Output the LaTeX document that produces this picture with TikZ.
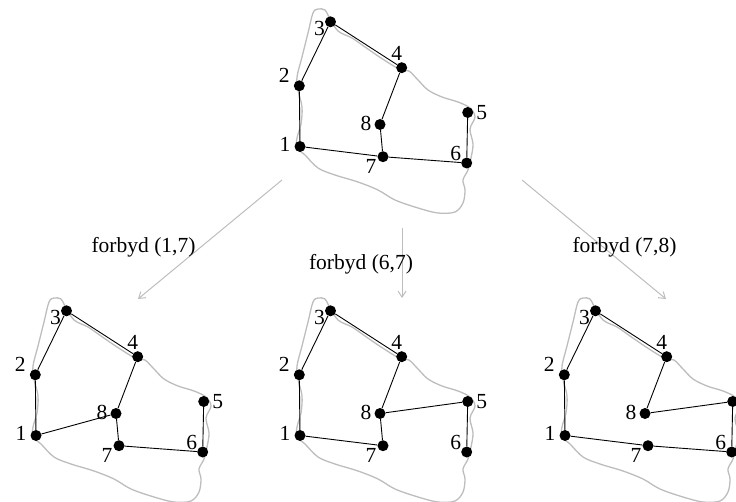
\documentclass[tikz,border=0pt]{standalone}
\usepackage{fontspec}
\setmainfont{Liberation Serif}
\usetikzlibrary{arrows.meta,calc}
\definecolor{outline}{gray}{0.74}
\tikzset{
  vertex/.style={circle,fill=black,inner sep=0pt,minimum size=11pt},
  vlabel/.style={inner sep=0pt,font=\fontsize{21.5}{25}\selectfont},
  edge/.style={line width=0.9pt},
  region/.style={draw=outline,line width=1.3pt},
  branch/.style={draw=outline,line width=1pt,-{Straight Barb[length=6pt,width=8pt]}},
  rulelabel/.style={font=\fontsize{21.5}{25}\selectfont,anchor=base,inner sep=0pt},
}
% one planar graph with its surrounding region;
% #1 = name prefix, (#2,#3) = shift, #4 = text of the label at vertex 5
\newcommand\makegraph[4]{%
  \begin{scope}[shift={(#2,#3)}]
    \draw[region] plot[smooth cycle,tension=0.55] coordinates {
      (318,9) (325,10) (329,17) (338,31) (352,38) (365,47) (378,56) (392,65)
      (401,70) (409,71) (418,80) (428,90) (442,97) (458,102) (470,108) (475,117)
      (470,129) (473,144) (471,158) (468,170) (463,180) (465,190) (463,203)
      (455,212) (438,213) (418,208) (395,200) (378,190) (358,182) (335,175)
      (318,168) (305,155) (297,148) (297,138) (301,124) (302,107) (298,90)
      (297,77) (302,57) (308,33) (313,13)};
    \node[vertex] (#1-1) at (300,146.5) {};
    \node[vertex] (#1-2) at (299.3,85.8) {};
    \node[vertex] (#1-3) at (330.5,21.8) {};
    \node[vertex] (#1-4) at (401.7,67.7) {};
    \node[vertex] (#1-5) at (467.7,112.5) {};
    \node[vertex] (#1-6) at (466.7,163) {};
    \node[vertex] (#1-7) at (383,156.7) {};
    \node[vertex] (#1-8) at (380,124.5) {};
    \node[vlabel] (#1-l1) at ($(#1-1)+(-15,-2)$) {1};
    \node[vlabel] (#1-l2) at ($(#1-2)+(-15,-10)$) {2};
    \node[vlabel] (#1-l3) at ($(#1-3)+(-11,7)$) {3};
    \node[vlabel] (#1-l4) at ($(#1-4)+(-5,-14)$) {4};
    \node[vlabel] (#1-l5) at ($(#1-5)+(14,0)$) {#4};
    \node[vlabel] (#1-l6) at ($(#1-6)+(-11,-10)$) {6};
    \node[vlabel] (#1-l7) at ($(#1-7)+(-12,10)$) {7};
    \node[vlabel] (#1-l8) at ($(#1-8)+(-14,-1)$) {8};
  \end{scope}}
\begin{document}
\begin{tikzpicture}[x=1pt,y=-1pt]
  \clip (0,0) rectangle (736,502);

  % the starting graph
  \makegraph{t}{0}{0}{5}
  \draw[edge] (t-1) -- (t-2) -- (t-3) -- (t-4) -- (t-8) -- (t-7) -- (t-1);
  \draw[edge] (t-7) -- (t-6) -- (t-5);

  % the three branches
  \makegraph{a}{-264}{289}{5}
  \draw[edge] (a-1) -- (a-2) -- (a-3) -- (a-4) -- (a-8) -- (a-1);
  \draw[edge] (a-8) -- (a-7) -- (a-6) -- (a-5);

  \makegraph{b}{0}{289}{5}
  \draw[edge] (b-1) -- (b-2) -- (b-3) -- (b-4) -- (b-8) -- (b-7) -- (b-1);
  \draw[edge] (b-8) -- (b-5) -- (b-6);

  % the right-hand graph runs past the page edge, so its label 5 is left empty
  \makegraph{c}{265}{289}{}
  \draw[edge] (c-1) -- (c-2) -- (c-3) -- (c-4) -- (c-8) -- (c-5) -- (c-6) -- (c-7) -- (c-1);

  % branching arrows
  \coordinate (s1) at (282,180);  \coordinate (e1) at (138,299);
  \coordinate (s2) at (402,228);  \coordinate (e2) at (402,298);
  \coordinate (s3) at (522,180);  \coordinate (e3) at (666,299);
  \draw[branch] (s1) -- (e1);
  \draw[branch] (s2) -- (e2);
  \draw[branch] (s3) -- (e3);

  \node[rulelabel] (r1) at (143.5,252.7) {forbyd (1,7)};
  \node[rulelabel] (r2) at (361,269.3) {forbyd (6,7)};
  \node[rulelabel] (r3) at (624.5,252.7) {forbyd (7,8)};
\end{tikzpicture}
\end{document}
